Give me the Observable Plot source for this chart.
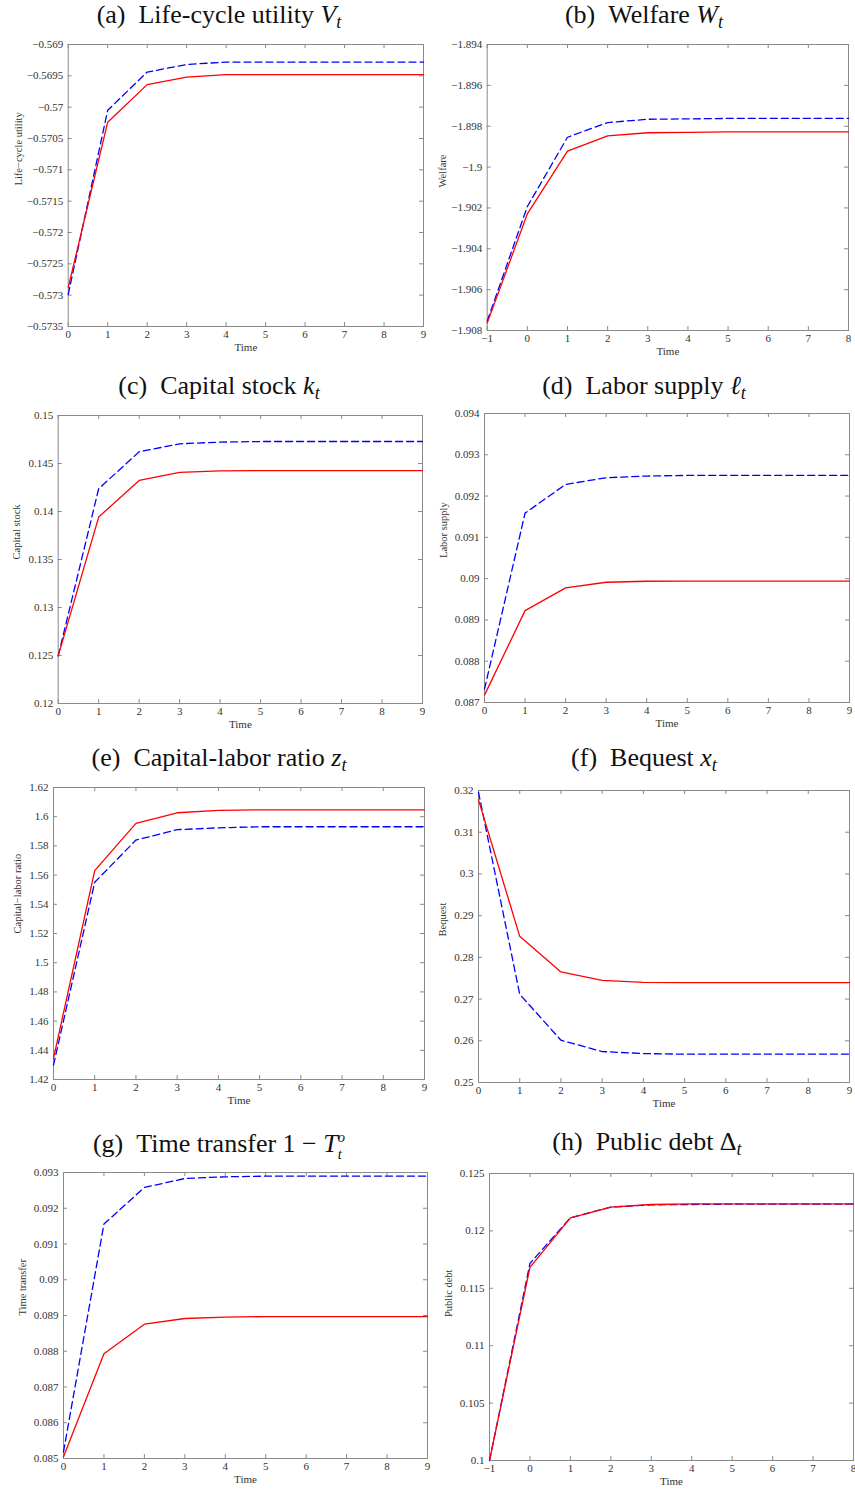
<!DOCTYPE html>
<html><head><meta charset="utf-8">
<script src="https://cdn.jsdelivr.net/npm/d3@7"></script>
<script src="https://cdn.jsdelivr.net/npm/@observablehq/plot@0.6"></script>
<style>
body{margin:0;background:#fff;}
#root{position:relative;width:855px;height:1490px;overflow:hidden;background:#fff;}
.title{position:absolute;font-family:"Liberation Serif",serif;font-size:26px;line-height:26px;color:#111;white-space:nowrap;transform:translateX(-50%);}
.title sub{font-size:0.7em;vertical-align:-0.25em;line-height:0;}
.title .ss{display:inline-block;vertical-align:-0.45em;font-size:0.56em;line-height:1.15em;text-align:left;}
.title .ss span{display:block;}
.plot{position:absolute;}
</style></head><body><div id="root"></div>
<script>
// ---- data ----
const timeA = [0, 1, 2, 3, 4, 5, 6, 7, 8, 9];
const timeB = [-1, 0, 1, 2, 3, 4, 5, 6, 7, 8];

const utilityRed  = [-0.57288, -0.57024, -0.56964, -0.56952, -0.56948, -0.56948, -0.56948, -0.56948, -0.56948, -0.56948];
const utilityBlue = [-0.57299, -0.57005, -0.56944, -0.56932, -0.56928, -0.56928, -0.56928, -0.56928, -0.56928, -0.56928];
const utilityTicks = [-0.5735, -0.573, -0.5725, -0.572, -0.5715, -0.571, -0.5705, -0.57, -0.5695, -0.569];

const welfareRed  = [-1.90764, -1.90229, -1.89922, -1.89847, -1.89832, -1.8983, -1.89828, -1.89828, -1.89828, -1.89828];
const welfareBlue = [-1.90754, -1.90193, -1.89854, -1.89782, -1.89766, -1.89764, -1.89762, -1.89762, -1.89762, -1.89762];
const welfareTicks = [-1.908, -1.906, -1.904, -1.902, -1.9, -1.898, -1.896, -1.894];

const capitalRed  = [0.12496, 0.13942, 0.14324, 0.14407, 0.14424, 0.14425, 0.14425, 0.14425, 0.14425, 0.14425];
const capitalBlue = [0.12496, 0.14237, 0.14622, 0.14705, 0.14723, 0.14729, 0.14729, 0.14729, 0.14729, 0.14729];
const capitalTicks = [0.12, 0.125, 0.13, 0.135, 0.14, 0.145, 0.15];

const laborRed  = [0.087178, 0.089225, 0.089775, 0.089913, 0.089937, 0.08994, 0.08994, 0.08994, 0.08994, 0.08994];
const laborBlue = [0.087324, 0.091587, 0.092283, 0.092445, 0.092485, 0.0925, 0.0925, 0.0925, 0.0925, 0.0925];
const laborTicks = [0.087, 0.088, 0.089, 0.09, 0.091, 0.092, 0.093, 0.094];

const ratioRed  = [1.4344, 1.5631, 1.5954, 1.6027, 1.6043, 1.6047, 1.6047, 1.6047, 1.6047, 1.6047];
const ratioBlue = [1.4298, 1.5551, 1.584, 1.5911, 1.5924, 1.5931, 1.5931, 1.5931, 1.5931, 1.5931];
const ratioTicks = [1.42, 1.44, 1.46, 1.48, 1.5, 1.52, 1.54, 1.56, 1.58, 1.6, 1.62];

const bequestRed  = [0.31776, 0.28504, 0.2765, 0.2745, 0.27402, 0.27394, 0.27394, 0.27394, 0.27394, 0.27394];
const bequestBlue = [0.31959, 0.27115, 0.26014, 0.25742, 0.25694, 0.25678, 0.25678, 0.25678, 0.25678, 0.25678];
const bequestTicks = [0.25, 0.26, 0.27, 0.28, 0.29, 0.3, 0.31, 0.32];

const transferRed  = [0.085047, 0.08793, 0.088758, 0.088916, 0.088953, 0.08897, 0.08897, 0.08897, 0.08897, 0.08897];
const transferBlue = [0.085186, 0.091558, 0.092581, 0.092833, 0.092879, 0.092898, 0.092898, 0.092898, 0.092898, 0.092898];
const transferTicks = [0.085, 0.086, 0.087, 0.088, 0.089, 0.09, 0.091, 0.092, 0.093];

const debtRed  = [0.1, 0.11682, 0.12114, 0.12207, 0.1223, 0.12236, 0.12236, 0.12236, 0.12236, 0.12236];
const debtBlue = [0.1, 0.11717, 0.12114, 0.12207, 0.12227, 0.1223, 0.12233, 0.12233, 0.12233, 0.12233];
const debtTicks = [0.1, 0.105, 0.11, 0.115, 0.12, 0.125];

const titles = [
  '(a)&ensp;Life-cycle utility <i>V</i><sub><i>t</i></sub>',
  '(b)&ensp;Welfare <i>W</i><sub><i>t</i></sub>',
  '(c)&ensp;Capital stock <i>k</i><sub><i>t</i></sub>',
  '(d)&ensp;Labor supply <i>ℓ</i><sub><i>t</i></sub>',
  '(e)&ensp;Capital-labor ratio <i>z</i><sub><i>t</i></sub>',
  '(f)&ensp;Bequest <i>x</i><sub><i>t</i></sub>',
  '(g)&ensp;Time transfer 1 − <i>T</i><span class="ss"><span><i>o</i></span><span><i>t</i></span></span>',
  '(h)&ensp;Public debt Δ<sub><i>t</i></sub>'
];
const yLabels = ["Life\u2212cycle utility", "Welfare", "Capital stock", "Labor supply", "Capital\u2212labor ratio", "Bequest", "Time transfer", "Public debt"];
const xLabel = "Time";

const panels = [
  {time: timeA, red: utilityRed, blue: utilityBlue, ticks: utilityTicks},
  {time: timeB, red: welfareRed, blue: welfareBlue, ticks: welfareTicks},
  {time: timeA, red: capitalRed, blue: capitalBlue, ticks: capitalTicks},
  {time: timeA, red: laborRed, blue: laborBlue, ticks: laborTicks},
  {time: timeA, red: ratioRed, blue: ratioBlue, ticks: ratioTicks},
  {time: timeA, red: bequestRed, blue: bequestBlue, ticks: bequestTicks},
  {time: timeA, red: transferRed, blue: transferBlue, ticks: transferTicks},
  {time: timeB, red: debtRed, blue: debtBlue, ticks: debtTicks}
];

// ---- layout (page pixels) ----
const layout = [
  {frame: [67.7, 423, 44, 326], titleX: 219, baseline: 24, ylx: -50},
  {frame: [486.7, 848, 44, 330], titleX: 644, baseline: 24, ylx: -45},
  {frame: [57.7, 422, 415, 703], titleX: 219, baseline: 395, ylx: -42},
  {frame: [484, 849, 413, 702], titleX: 644, baseline: 395, ylx: -41},
  {frame: [53, 424, 787, 1079], titleX: 219, baseline: 767, ylx: -36},
  {frame: [478, 849, 790, 1082], titleX: 644, baseline: 767, ylx: -36},
  {frame: [63, 427, 1172, 1458], titleX: 219, baseline: 1151, ylx: -41},
  {frame: [489, 853, 1173, 1460], titleX: 647, baseline: 1151, ylx: -41}
];

const fmt = d => String(Math.round(d * 1e6) / 1e6).replace("-", "\u2212");
const root = document.getElementById("root");
const frameColor = "#8a8a8a";
const titleSize = 26;

panels.forEach((p, i) => {
  const L = layout[i];
  const [x0, x1, y0, y1] = L.frame;
  const cellX = x0 < 427 ? 0 : 427;
  const W = cellX === 0 ? 427 : 428;
  const mt = 12, mb = 40;
  const fw = x1 - x0, fh = y1 - y0;
  const H = fh + mt + mb;
  const tk = 4;
  const rows = p.time.map((t, j) => ({t, r: p.red[j], b: p.blue[j]}));
  const svg = Plot.plot({
    width: W, height: H,
    marginLeft: x0 - cellX, marginRight: cellX + W - x1, marginTop: mt, marginBottom: mb,
    x: {domain: d3.extent(p.time)},
    y: {domain: d3.extent(p.ticks)},
    style: {fontFamily: "'Liberation Serif', serif", fontSize: "11px", color: "#333", background: "transparent", overflow: "visible"},
    marks: [
      Plot.frame({stroke: frameColor}),
      Plot.tickX(p.time, {x: d => d, insetTop: fh - tk, stroke: frameColor}),
      Plot.tickX(p.time, {x: d => d, insetBottom: fh - tk, stroke: frameColor}),
      Plot.tickY(p.ticks, {y: d => d, insetRight: fw - tk, stroke: frameColor}),
      Plot.tickY(p.ticks, {y: d => d, insetLeft: fw - tk, stroke: frameColor}),
      Plot.axisX({ticks: p.time, tickSize: 0, tickPadding: 4, tickFormat: fmt, label: null}),
      Plot.axisY({ticks: p.ticks, tickSize: 0, tickPadding: 5, tickFormat: fmt, label: null}),
      Plot.lineY(rows, {x: "t", y: "b", stroke: "#0000ff", strokeWidth: 1.3, strokeDasharray: "7,4"}),
      Plot.lineY(rows, {x: "t", y: "r", stroke: "#ff0000", strokeWidth: 1.3}),
      Plot.text([xLabel], {text: d => d, frameAnchor: "bottom", dy: 24, fontSize: 11, fill: "#333"}),
      Plot.text([yLabels[i]], {text: d => d, frameAnchor: "left", rotate: -90, dx: L.ylx, fontSize: 10.5, fill: "#333"})
    ]
  });
  const div = document.createElement("div");
  div.className = "plot";
  div.style.left = cellX + "px";
  div.style.top = (y0 - mt) + "px";
  div.style.width = W + "px";
  div.appendChild(svg);
  root.appendChild(div);

  const t = document.createElement("div");
  t.className = "title";
  t.innerHTML = titles[i];
  t.style.left = L.titleX + "px";
  t.style.top = (L.baseline - 0.8375 * titleSize) + "px";
  root.appendChild(t);
});
</script></body></html>
